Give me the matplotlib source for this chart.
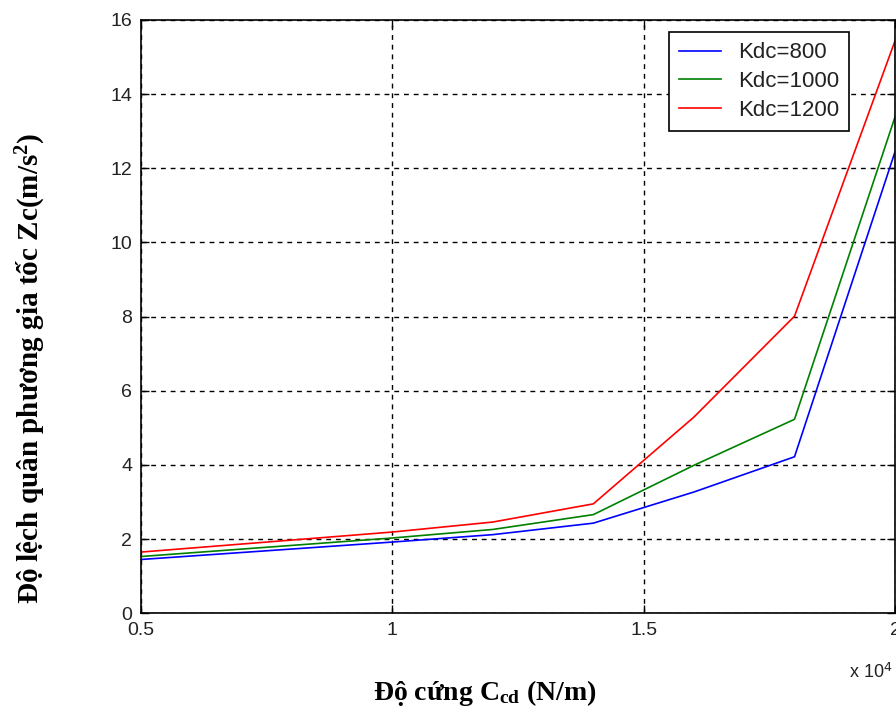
import numpy as np
import matplotlib.pyplot as plt

# stiffness values (x 10^4 N/m) and RMS acceleration for each Kdc
c_cd = [0.5, 1.0, 1.2, 1.4, 1.6, 1.8, 2.0]
z_800 = [1.45, 1.92, 2.12, 2.43, 3.27, 4.22, 12.45]
z_1000 = [1.53, 2.03, 2.26, 2.66, 3.99, 5.23, 13.39]
z_1200 = [1.65, 2.19, 2.46, 2.95, 5.29, 8.01, 15.44]
labels = ['Kdc=800', 'Kdc=1000', 'Kdc=1200']
colors = ['#0000ff', '#008000', '#ff0000']

plt.rcParams['mathtext.fontset'] = 'custom'
plt.rcParams['mathtext.rm'] = 'Liberation Serif:bold'
plt.rcParams['mathtext.it'] = 'Liberation Serif:bold'
plt.rcParams['mathtext.bf'] = 'Liberation Serif:bold'

fig = plt.figure(figsize=(8.96, 7.09), dpi=100)
ax = fig.add_axes([0.157, 0.135, 0.842, 0.837])

for y, lab, col in zip([z_800, z_1000, z_1200], labels, colors):
    ax.plot(c_cd, y, color=col, lw=1.2, label=lab)

ax.set_xlim(0.5, 2)
ax.set_ylim(0, 16)
ax.set_xticks([0.5, 1, 1.5, 2])
ax.set_xticklabels(['0.5', '1', '1.5', '2'])
ax.set_yticks(range(0, 17, 2))
ax.grid(True, color='black', linestyle=(0, (3.5, 3.5)), lw=1.0)
ax.tick_params(direction='in', length=6, width=1, top=True, right=True,
               labelsize=14, pad=6)
for lbl in ax.get_xticklabels() + ax.get_yticklabels():
    lbl.set_family('Liberation Sans')
    lbl.set_color('#222222')
for s in ax.spines.values():
    s.set_linewidth(1.2)

leg = ax.legend(loc='upper right', bbox_to_anchor=(0.948, 0.99), fancybox=False,
                edgecolor='black', framealpha=1, handlelength=1.9,
                prop={'family': 'Liberation Sans', 'size': 16},
                borderpad=0.45, labelspacing=0.35, handletextpad=0.75,
                borderaxespad=0.3)
leg.get_frame().set_linewidth(1.2)
for t in leg.get_texts():
    t.set_color('#222222')

fig.text(0.972, 0.052, r'x 10$^{\mathsf{4}}$', family='Liberation Sans', fontsize=13,
         color='#222222', ha='center', va='center')

fig.text(0.541, 0.022, r'Độ cứng C$_{\mathrm{cd}}$ (N/m)', family='Liberation Serif',
         fontweight='bold', fontsize=20, ha='center', va='center')
fig.text(0.034, 0.48, r'Độ lệch quân phương gia tốc Zc(m/s$^{\mathrm{2}}$)',
         family='Liberation Serif', fontweight='bold', fontsize=21,
         rotation=90, ha='center', va='center')

plt.savefig('out.png', dpi=100)
